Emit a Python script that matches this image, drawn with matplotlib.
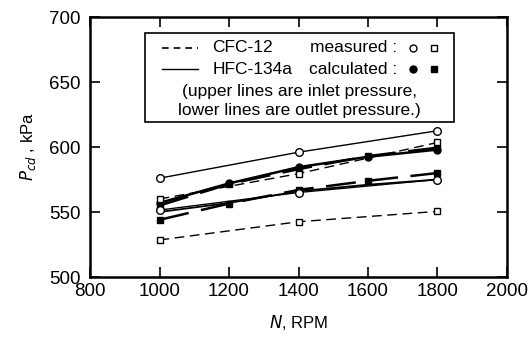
import matplotlib.pyplot as plt
from matplotlib.patches import Rectangle
from matplotlib.lines import Line2D

plt.rcParams['font.family'] = ['Liberation Sans', 'DejaVu Sans']

# measured data (1000, 1400, 1800 rpm)
rpm_meas = [1000, 1400, 1800]
hfc_in_meas = [576, 596, 612.5]
hfc_out_meas = [551.5, 565, 575]
cfc_in_meas = [560, 579.5, 603.5]
cfc_out_meas = [528.5, 542.5, 550.5]

# calculated data
rpm_calc = [1000, 1200, 1400, 1600, 1800]
hfc_in_calc = [557, 572, 584.5, 592.5, 598]
cfc_in_calc = [555, 571.5, 583, 593, 599.5]
hfc_out_calc = [550, 557, 566, 571, 575]
cfc_out_calc = [544, 556.5, 567, 574, 580]

fig = plt.figure(figsize=(5.31, 3.43), dpi=100)
ax = fig.add_axes([0.1695, 0.1924, 0.7853, 0.758])

thin = dict(color='black', lw=1.0)
thick = dict(color='black', lw=1.8)
dash_s = (0, (7, 4))
dash_l = (0, (12, 5))

# calculated lines
ax.plot(rpm_calc, hfc_in_calc, '-', marker='o', ms=5, mfc='black', mec='black', **thick)
ax.plot(rpm_calc, cfc_in_calc, linestyle=dash_l, marker='s', ms=5, mfc='black', mec='black', **thick)
ax.plot(rpm_calc, hfc_out_calc, '-', marker='o', ms=5, mfc='black', mec='black', markevery=[2], lw=1.3, color='black')
ax.plot(rpm_calc, cfc_out_calc, linestyle=dash_l, marker='s', ms=5, mfc='black', mec='black', **thick)

# measured lines
ax.plot(rpm_meas, hfc_in_meas, '-', marker='o', ms=5.5, mfc='white', mec='black', mew=1, **thin)
ax.plot(rpm_meas, hfc_out_meas, '-', marker='o', ms=5.5, mfc='white', mec='black', mew=1, **thin)
ax.plot(rpm_meas, cfc_in_meas, linestyle=dash_s, marker='s', ms=5, mfc='white', mec='black', mew=1, **thin)
ax.plot(rpm_meas, cfc_out_meas, linestyle=dash_s, marker='s', ms=5, mfc='white', mec='black', mew=1, **thin)

ax.set_xlim(800, 2000)
ax.set_ylim(500, 700)
ax.set_xticks([800, 1000, 1200, 1400, 1600, 1800, 2000])
ax.set_yticks([500, 550, 600, 650, 700])
ax.tick_params(direction='in', length=7, width=1.2, labelsize=13.5,
               top=True, right=True, pad=4)
ax.tick_params(axis='y', pad=7)
for s in ax.spines.values():
    s.set_linewidth(1.8)

ax.set_xlabel('$N$, RPM', fontsize=12, labelpad=10)
ax.set_ylabel('$P_{cd}$ , kPa', fontsize=12, labelpad=8)

# legend box drawn by hand
ax.add_patch(Rectangle((0.132, 0.597), 0.74, 0.343, transform=ax.transAxes,
                       fill=True, fc='white', ec='black', lw=1.2, zorder=5))
t = ax.transAxes
ax.add_line(Line2D([0.173, 0.259], [0.881, 0.881], transform=t, color='black',
                   lw=1.2, linestyle=(0, (4, 3)), zorder=6))
ax.add_line(Line2D([0.173, 0.259], [0.800, 0.800], transform=t, color='black',
                   lw=1.0, zorder=6))
fs = 12.5
ax.text(0.293, 0.881, 'CFC-12', transform=t, fontsize=fs, va='center', zorder=6)
ax.text(0.293, 0.800, 'HFC-134a', transform=t, fontsize=fs, va='center', zorder=6)
ax.text(0.528, 0.881, 'measured :', transform=t, fontsize=fs, va='center', zorder=6)
ax.text(0.526, 0.800, 'calculated :', transform=t, fontsize=fs, va='center', zorder=6)
ax.plot([0.775], [0.881], 'o', transform=t, ms=5, mfc='white', mec='black', zorder=6)
ax.plot([0.826], [0.881], 's', transform=t, ms=4.5, mfc='white', mec='black', zorder=6)
ax.plot([0.775], [0.800], 'o', transform=t, ms=5, mfc='black', mec='black', zorder=6)
ax.plot([0.826], [0.800], 's', transform=t, ms=4.5, mfc='black', mec='black', zorder=6)
ax.text(0.502, 0.715, '(upper lines are inlet pressure,', transform=t, fontsize=fs,
        ha='center', va='center', zorder=6)
ax.text(0.502, 0.642, 'lower lines are outlet pressure.)', transform=t, fontsize=fs,
        ha='center', va='center', zorder=6)

plt.savefig('out.png', dpi=100)
